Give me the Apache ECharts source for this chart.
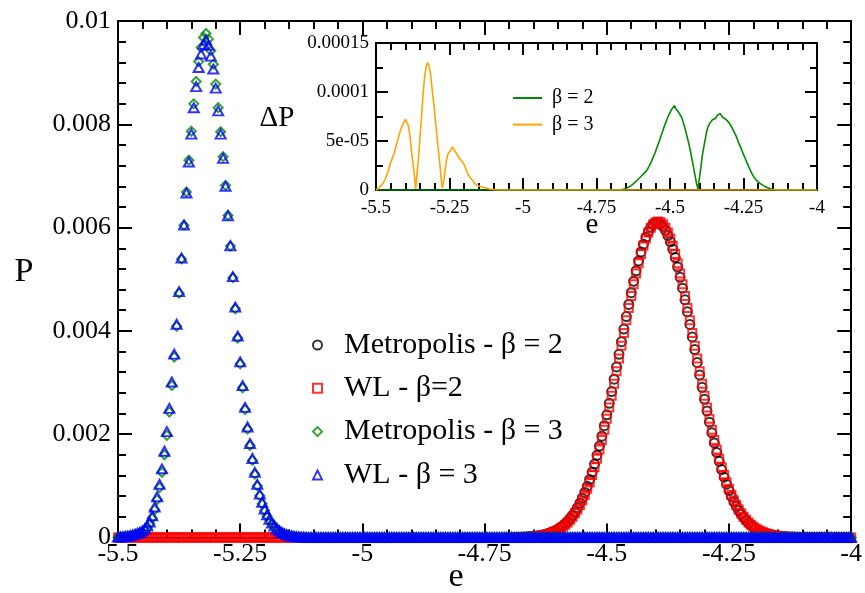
<!DOCTYPE html>
<html><head><meta charset="utf-8">
<script src="https://cdn.jsdelivr.net/npm/echarts@6/dist/echarts.min.js"></script>
<style>html,body{margin:0;padding:0;background:#fff}#c{width:865px;height:593px}</style>
</head><body><div id="c"></div>
<script>
// energy grid e (shared by all series)
const E = [
-5.5,-5.495,-5.49,-5.485,-5.48,-5.475,-5.47,-5.465,-5.46,-5.455,
-5.45,-5.445,-5.44,-5.435,-5.43,-5.425,-5.42,-5.415,-5.41,-5.405,
-5.4,-5.395,-5.39,-5.385,-5.38,-5.375,-5.37,-5.365,-5.36,-5.355,
-5.35,-5.345,-5.34,-5.335,-5.33,-5.325,-5.32,-5.315,-5.31,-5.305,
-5.3,-5.295,-5.29,-5.285,-5.28,-5.275,-5.27,-5.265,-5.26,-5.255,
-5.25,-5.245,-5.24,-5.235,-5.23,-5.225,-5.22,-5.215,-5.21,-5.205,
-5.2,-5.195,-5.19,-5.185,-5.18,-5.175,-5.17,-5.165,-5.16,-5.155,
-5.15,-5.145,-5.14,-5.135,-5.13,-5.125,-5.12,-5.115,-5.11,-5.105,
-5.1,-5.095,-5.09,-5.085,-5.08,-5.075,-5.07,-5.065,-5.06,-5.055,
-5.05,-5.045,-5.04,-5.035,-5.03,-5.025,-5.02,-5.015,-5.01,-5.005,
-5,-4.995,-4.99,-4.985,-4.98,-4.975,-4.97,-4.965,-4.96,-4.955,
-4.95,-4.945,-4.94,-4.935,-4.93,-4.925,-4.92,-4.915,-4.91,-4.905,
-4.9,-4.895,-4.89,-4.885,-4.88,-4.875,-4.87,-4.865,-4.86,-4.855,
-4.85,-4.845,-4.84,-4.835,-4.83,-4.825,-4.82,-4.815,-4.81,-4.805,
-4.8,-4.795,-4.79,-4.785,-4.78,-4.775,-4.77,-4.765,-4.76,-4.755,
-4.75,-4.745,-4.74,-4.735,-4.73,-4.725,-4.72,-4.715,-4.71,-4.705,
-4.7,-4.695,-4.69,-4.685,-4.68,-4.675,-4.67,-4.665,-4.66,-4.655,
-4.65,-4.645,-4.64,-4.635,-4.63,-4.625,-4.62,-4.615,-4.61,-4.605,
-4.6,-4.595,-4.59,-4.585,-4.58,-4.575,-4.57,-4.565,-4.56,-4.555,
-4.55,-4.545,-4.54,-4.535,-4.53,-4.525,-4.52,-4.515,-4.51,-4.505,
-4.5,-4.495,-4.49,-4.485,-4.48,-4.475,-4.47,-4.465,-4.46,-4.455,
-4.45,-4.445,-4.44,-4.435,-4.43,-4.425,-4.42,-4.415,-4.41,-4.405,
-4.4,-4.395,-4.39,-4.385,-4.38,-4.375,-4.37,-4.365,-4.36,-4.355,
-4.35,-4.345,-4.34,-4.335,-4.33,-4.325,-4.32,-4.315,-4.31,-4.305,
-4.3,-4.295,-4.29,-4.285,-4.28,-4.275,-4.27,-4.265,-4.26,-4.255,
-4.25,-4.245,-4.24,-4.235,-4.23,-4.225,-4.22,-4.215,-4.21,-4.205,
-4.2,-4.195,-4.19,-4.185,-4.18,-4.175,-4.17,-4.165,-4.16,-4.155,
-4.15,-4.145,-4.14,-4.135,-4.13,-4.125,-4.12,-4.115,-4.11,-4.105,
-4.1,-4.095,-4.09,-4.085,-4.08,-4.075,-4.07,-4.065,-4.06,-4.055,
-4.05,-4.045,-4.04,-4.035,-4.03,-4.025,-4.02,-4.015,-4.01,-4.005,
-4
];

// Metropolis, beta = 2 (null = no point)
const pMetro2 = [
null,null,null,null,null,null,null,null,null,null,
null,null,null,null,null,null,null,null,null,null,
null,null,null,null,null,null,null,null,null,null,
null,null,null,null,null,null,null,null,null,null,
null,null,null,null,null,null,null,null,null,null,
null,null,null,null,null,null,null,null,null,null,
null,null,null,null,null,null,null,null,null,null,
null,null,null,null,null,null,null,null,null,null,
null,null,null,null,null,null,null,null,null,null,
null,null,null,null,null,null,null,null,null,null,
null,null,null,null,null,null,null,null,null,null,
null,null,null,null,null,null,null,null,null,null,
null,null,null,null,null,null,null,null,null,null,
null,null,null,null,null,null,null,null,null,null,
null,null,null,null,null,null,null,null,null,null,
null,null,null,null,null,null,null,null,null,null,
null,null,null,null,null,0.0000058,0.0000076,0.0000098,0.0000127,0.0000161,
0.0000206,0.0000262,0.000032,0.0000409,0.00005,0.0000622,0.0000755,0.000092,0.0001115,0.000133,
0.0001595,0.00019,0.0002245,0.000265,0.0003115,0.000366,0.000427,0.000497,0.0005755,0.000664,
0.0007615,0.000871,0.000991,0.001123,0.0012665,0.001422,0.0015905,0.0017705,0.0019615,0.002164,
0.002376,0.002598,0.002825,0.003065,0.003303,0.003547,0.003791,0.0040365,0.004278,0.004513,
0.004741,0.004959,0.005164,0.005355,0.005528,0.00568,0.005812,0.005921,0.006006,0.006067,
0.006094,0.006097,0.006071,0.006022,0.005947,0.005846,0.005724,0.005581,0.005419,0.005237,
0.005038,0.004828,0.004601,0.004369,0.004126,0.003883,0.003638,0.00339,0.003148,0.002908,
0.002675,0.002449,0.002233,0.002027,0.001831,0.001647,0.001475,0.001315,0.001167,0.001032,
0.000908,0.000795,0.000694,0.000603,0.000522,0.00045,0.000386,0.0003305,0.0002805,0.0002375,
0.0002,0.000168,0.00014,0.000116,0.000097,0.0000798,0.0000655,0.000054,0.0000435,0.0000359,
0.0000282,0.0000235,0.0000187,0.000015,0.000012,0.0000094,0.0000074,0.0000058,null,null,
null,null,null,null,null,null,null,null,null,null,
null,null,null,null,null,null,null,null,null,null,
null
];

// Wang-Landau, beta = 2
const pWL2 = [
0,0,0,0,0,0,0,0,0,0,
0,0,0,0,0,0,0,0,0,0,
0,0,0,0,0,0,0,0,0,0,
0,0,0,0,0,0,0,0,0,0,
0,0,0,0,0,0,0,0,0,0,
0,0,0,0,0,0,0,0,0,0,
0,0,0,0,0,0,0,0,0,0,
0,0,0,null,null,null,null,null,null,null,
null,null,null,null,null,null,null,null,null,null,
null,null,null,null,null,null,null,null,null,null,
null,null,null,null,null,null,null,null,null,null,
null,null,null,null,null,null,null,null,null,null,
null,null,null,null,null,null,null,null,null,null,
null,null,null,null,null,null,null,null,null,null,
null,null,null,null,null,null,null,null,null,null,
null,null,null,null,null,null,null,null,null,null,
0,0,0,0,0,0.0000058,0.0000074,0.0000094,0.000012,0.000015,
0.000019,0.000024,0.000029,0.000037,0.000045,0.000056,0.000068,0.000083,0.000101,0.000121,
0.000146,0.000175,0.000208,0.000247,0.000292,0.000344,0.000402,0.000469,0.000544,0.000629,
0.000723,0.000828,0.000944,0.001072,0.001211,0.001362,0.001526,0.001702,0.001889,0.002088,
0.002297,0.002516,0.002744,0.002979,0.00322,0.003465,0.003712,0.003959,0.004204,0.004444,
0.004677,0.004901,0.005112,0.005309,0.005489,0.005649,0.005789,0.005906,0.005999,0.006066,
0.006106,0.00612,0.006106,0.006066,0.005999,0.005906,0.005789,0.005649,0.005489,0.005309,
0.005112,0.004901,0.004677,0.004444,0.004204,0.003959,0.003712,0.003465,0.00322,0.002979,
0.002744,0.002516,0.002297,0.002088,0.001889,0.001702,0.001526,0.001362,0.001211,0.001072,
0.000944,0.000828,0.000723,0.000629,0.000544,0.000469,0.000402,0.000344,0.000292,0.000247,
0.000208,0.000175,0.000146,0.000121,0.000101,0.000083,0.000068,0.000056,0.000045,0.000037,
0.000029,0.000024,0.000019,0.000015,0.000012,0.0000094,0.0000074,0.0000058,0,0,
0,0,0,0,0,0,0,0,0,0,
0,0,0,0,0,0,0,0,0,0,
0
];

// Metropolis, beta = 3
const pMetro3 = [
0.000007,0.000009,0.000012,0.0000165,0.0000215,0.00003,0.00004,0.000051,0.000067,0.000082,
0.000102,0.000138,0.000184,0.000259,0.000373,0.000538,0.000732,0.000968,0.001264,0.001601,
0.001978,0.00243,0.002944,0.003494,0.004088,0.004731,0.005394,0.006047,0.006688,0.007305,
0.007866,0.008396,0.008828,0.009214,0.009485,0.00968,0.009757,0.009649,0.009425,0.009162,
0.008778,0.008322,0.007857,0.007373,0.006818,0.006236,0.005642,0.00503,0.004429,0.003863,
0.003361,0.002899,0.002476,0.002098,0.001781,0.001493,0.001226,0.000998,0.00081,0.000652,
0.000524,0.000418,0.000332,0.000265,0.000207,0.000159,0.00012,0.000093,0.0000695,0.0000505,
0.000036,0.0000265,0.000017,0.0000125,0.000008,0.000005,0.0000035,0,0,0,
0,0,0,0,0,0,0,0,0,0,
0,0,0,0,0,0,0,0,0,0,
0,0,0,0,0,0,0,0,0,0,
0,0,0,0,0,0,0,0,0,0,
0,0,0,0,0,0,0,0,0,0,
0,0,0,0,0,0,0,0,0,0,
0,0,0,0,0,0,0,0,0,0,
0,0,0,0,0,0,0,0,0,0,
0,0,0,0,0,0,0,0,0,0,
0,0,0,0,0,0,0,0,0,0,
0,0,0,0,0,0,0,0,0,0,
0,0,0,0,0,0,0,0,0,0,
0,0,0,0,0,0,0,0,0,0,
0,0,0,0,0,0,0,0,0,0,
0,0,0,0,0,0,0,0,0,0,
0,0,0,0,0,0,0,0,0,0,
0,0,0,0,0,0,0,0,0,0,
0,0,0,0,0,0,0,0,0,0,
0,0,0,0,0,0,0,0,0,0,
0,0,0,0,0,0,0,0,0,0,
0,0,0,0,0,0,0,0,0,0,
0,0,0,0,0,0,0,0,0,0,
0
];

// Wang-Landau, beta = 3
const pWL3 = [
0.000007,0.00001,0.000014,0.00002,0.000027,0.000037,0.00005,0.000065,0.000085,0.000105,
0.00013,0.00017,0.00022,0.0003,0.00042,0.00059,0.00079,0.00103,0.00133,0.00167,
0.00205,0.0025,0.00301,0.00355,0.00413,0.00476,0.00541,0.00605,0.00667,0.00727,
0.00781,0.00832,0.00873,0.0091,0.00936,0.00955,0.00963,0.00953,0.00932,0.00907,
0.0087,0.00826,0.00781,0.00734,0.0068,0.00623,0.00565,0.00505,0.00446,0.0039,
0.0034,0.00294,0.00252,0.00214,0.00182,0.00153,0.00126,0.00103,0.00084,0.00068,
0.00055,0.00044,0.00035,0.00028,0.00022,0.00017,0.00013,0.0001,0.000075,0.000055,
0.00004,0.00003,0.00002,0.000015,0.00001,0.000007,0.000005,0,0,0,
0,0,0,0,0,0,0,0,0,0,
0,0,0,0,0,0,0,0,0,0,
0,0,0,0,0,0,0,0,0,0,
0,0,0,0,0,0,0,0,0,0,
0,0,0,0,0,0,0,0,0,0,
0,0,0,0,0,0,0,0,0,0,
0,0,0,0,0,0,0,0,0,0,
0,0,0,0,0,0,0,0,0,0,
0,0,0,0,0,0,0,0,0,0,
0,0,0,0,0,0,0,0,0,0,
0,0,0,0,0,0,0,0,0,0,
0,0,0,0,0,0,0,0,0,0,
0,0,0,0,0,0,0,0,0,0,
0,0,0,0,0,0,0,0,0,0,
0,0,0,0,0,0,0,0,0,0,
0,0,0,0,0,0,0,0,0,0,
0,0,0,0,0,0,0,0,0,0,
0,0,0,0,0,0,0,0,0,0,
0,0,0,0,0,0,0,0,0,0,
0,0,0,0,0,0,0,0,0,0,
0,0,0,0,0,0,0,0,0,0,
0,0,0,0,0,0,0,0,0,0,
0
];

// inset: Delta P, beta = 2
const dP2 = [
0,0,0,0,0,0,0,0,0,0,
0,0,0,0,0,0,0,0,0,0,
0,0,0,0,0,0,0,0,0,0,
0,0,0,0,0,0,0,0,0,0,
0,0,0,0,0,0,0,0,0,0,
0,0,0,0,0,0,0,0,0,0,
0,0,0,0,0,0,0,0,0,0,
0,0,0,0,0,0,0,0,0,0,
0,0,0,0,0,0,0,0,0,0,
0,0,0,0,0,0,0,0,0,0,
0,0,0,0,0,0,0,0,0,0,
0,0,0,0,0,0,0,0,0,0,
0,0,0,0,0,0,0,0,0,0,
0,0,0,0,0,0,0,0,0,0,
0,0,0,0,0,0,0,0,0,0,
0,0,0,0,0,0,0,0,0,0,
0,0,0,0,0,0,0.0000002,0.0000004,0.0000007,0.0000011,
0.0000016,0.0000022,0.000003,0.0000039,0.000005,0.0000062,0.0000075,0.000009,0.0000105,0.000012,
0.0000135,0.000015,0.0000165,0.000018,0.0000195,0.000022,0.000025,0.000028,0.0000315,0.000035,
0.0000385,0.000043,0.000047,0.000051,0.0000555,0.00006,0.0000645,0.0000685,0.0000725,0.000076,
0.000079,0.000082,0.000081,0.000086,0.000083,0.000082,0.000079,0.0000775,0.000074,0.000069,
0.000064,0.000058,0.000052,0.000046,0.000039,0.000031,0.000023,0.000015,0.000007,0.000001,
0.000012,0.000023,0.000035,0.000044,0.000052,0.00006,0.000065,0.000068,0.00007,0.000072,
0.000074,0.000073,0.000076,0.000075,0.000078,0.000076,0.000074,0.000075,0.000072,0.000071,
0.000069,0.000067,0.000064,0.000061,0.000058,0.000055,0.000051,0.000047,0.000044,0.00004,
0.000036,0.000033,0.000029,0.000026,0.000022,0.000019,0.000016,0.0000135,0.0000115,0.0000095,
0.000008,0.000007,0.000006,0.000005,0.000004,0.0000032,0.0000025,0.000002,0.0000015,0.0000011,
0.0000008,0.0000005,0.0000003,0,0,0,0,0,0,0,
0,0,0,0,0,0,0,0,0,0,
0,0,0,0,0,0,0,0,0,0,
0
];

// inset: Delta P, beta = 3
const dP3 = [
0,0.000001,0.000002,0.0000035,0.0000055,0.000007,0.00001,0.000014,0.000018,0.000023,
0.000028,0.000032,0.000036,0.000041,0.000047,0.000052,0.000058,0.000062,0.000066,0.000069,
0.000072,0.00007,0.000066,0.000056,0.000042,0.000029,0.000016,0.000001,0.000018,0.000035,
0.000056,0.000076,0.000098,0.000114,0.000125,0.00013,0.000127,0.000119,0.000105,0.000092,
0.000078,0.000062,0.000047,0.000033,0.000018,0.000002,0.000008,0.00002,0.000031,0.000037,
0.000039,0.000041,0.000044,0.000042,0.000039,0.000037,0.000034,0.000032,0.00003,0.000028,
0.000026,0.000022,0.000018,0.000015,0.000013,0.000011,0.00001,0.000007,0.0000055,0.0000045,
0.000004,0.0000035,0.000003,0.0000025,0.000002,0.000002,0.0000015,0.000001,0.000001,0.0000007,
0.0000005,0.0000003,0,0,0,0,0,0,0,0,
0,0,0,0,0,0,0,0,0,0,
0,0,0,0,0,0,0,0,0,0,
0,0,0,0,0,0,0,0,0,0,
0,0,0,0,0,0,0,0,0,0,
0,0,0,0,0,0,0,0,0,0,
0,0,0,0,0,0,0,0,0,0,
0,0,0,0,0,0,0,0,0,0,
0,0,0,0,0,0,0,0,0,0,
0,0,0,0,0,0,0,0,0,0,
0,0,0,0,0,0,0,0,0,0,
0,0,0,0,0,0,0,0,0,0,
0,0,0,0,0,0,0,0,0,0,
0,0,0,0,0,0,0,0,0,0,
0,0,0,0,0,0,0,0,0,0,
0,0,0,0,0,0,0,0,0,0,
0,0,0,0,0,0,0,0,0,0,
0,0,0,0,0,0,0,0,0,0,
0,0,0,0,0,0,0,0,0,0,
0,0,0,0,0,0,0,0,0,0,
0,0,0,0,0,0,0,0,0,0,
0,0,0,0,0,0,0,0,0,0,
0
];

const mainLegend = ['Metropolis - β = 2', 'WL - β=2', 'Metropolis - β = 3', 'WL - β = 3'];
const insetLegend = ['β = 2', 'β = 3'];
const insetYLabels = ['0', '5e-05', '0.0001', '0.00015'];

const FONT = '"Liberation Serif"';

function pairs(v) {
  const out = [];
  for (let i = 0; i < E.length; i++) {
    if (v[i] !== null && v[i] !== undefined) out.push([E[i], v[i]]);
  }
  return out;
}

function xAx(grid, pos, showLabel, fs, tl, ml, margin) {
  return {
    type: 'value', gridIndex: grid, position: pos, min: -5.5, max: -4, interval: 0.25,
    axisLine: { show: true, onZero: false, lineStyle: { color: '#000', width: 2 } },
    axisTick: { show: true, inside: true, length: tl, lineStyle: { color: '#000', width: 2 } },
    minorTick: { show: true, splitNumber: 5, length: ml, lineStyle: { color: '#000', width: 2 } },
    splitLine: { show: false }, minorSplitLine: { show: false },
    axisLabel: { show: showLabel, color: '#000', fontFamily: FONT, fontSize: fs, margin: margin,
                 showMinLabel: true, showMaxLabel: true }
  };
}
function yAx(grid, pos, showLabel, max, interval, split, fs, tl, ml, margin, fmt) {
  const a = {
    type: 'value', gridIndex: grid, position: pos, min: 0, max: max, interval: interval,
    axisLine: { show: true, onZero: false, lineStyle: { color: '#000', width: 2 } },
    axisTick: { show: true, inside: true, length: tl, lineStyle: { color: '#000', width: 2 } },
    minorTick: { show: true, splitNumber: split, length: ml, lineStyle: { color: '#000', width: 2 } },
    splitLine: { show: false }, minorSplitLine: { show: false },
    axisLabel: { show: showLabel, color: '#000', fontFamily: FONT, fontSize: fs, margin: margin,
                 showMinLabel: true, showMaxLabel: true }
  };
  if (fmt) a.axisLabel.formatter = fmt;
  return a;
}
function hollow(name, symbol, size, color, data) {
  return {
    name: name, type: 'scatter', xAxisIndex: 0, yAxisIndex: 0, symbol: symbol, symbolSize: size,
    data: pairs(data), clip: false, silent: true,
    itemStyle: { color: 'rgba(255,255,255,0)', borderColor: color, borderWidth: 2 },
    emphasis: { disabled: true }
  };
}

const chart = echarts.init(document.getElementById('c'), null, { renderer: 'canvas' });
chart.setOption({
  animation: false,
  backgroundColor: '#fff',
  textStyle: { fontFamily: FONT },
  grid: [
    { left: 118, right: 12, top: 21, bottom: 55.5 },
    { left: 376, right: 48, top: 43, bottom: 403, show: true, backgroundColor: '#fff', borderWidth: 0, z: 5 }
  ],
  xAxis: [
    xAx(0, 'bottom', true, 26, 14, 8, 4),
    xAx(0, 'top', false, 26, 14, 8, 4),
    Object.assign(xAx(1, 'bottom', true, 19, 12, 7, 9), { z: 6 }),
    Object.assign(xAx(1, 'top', false, 19, 12, 7, 9), { z: 6 })
  ],
  yAxis: [
    yAx(0, 'left', true, 0.01, 0.002, 5, 26, 14, 8, 7),
    yAx(0, 'right', false, 0.01, 0.002, 5, 26, 14, 8, 7),
    Object.assign(yAx(1, 'left', true, 0.00015, 0.00005, 2, 19, 12, 7, 7,
      function (v, i) { return insetYLabels[i]; }), { z: 6 }),
    Object.assign(yAx(1, 'right', false, 0.00015, 0.00005, 2, 19, 12, 7, 7), { z: 6 })
  ],
  legend: [
    {
      data: mainLegend, orient: 'vertical', left: 312, top: 330, padding: 0, itemWidth: 9, itemHeight: 9,
      itemGap: 13.3, selectedMode: false, z: 10,
      textStyle: { fontFamily: FONT, fontSize: 30, color: '#000', padding: [0, 0, 0, 17] }
    },
    {
      data: insetLegend, orient: 'vertical', left: 513, top: 88, padding: 0, itemWidth: 29, itemHeight: 2,
      icon: 'rect', itemGap: 6.6, selectedMode: false, z: 10,
      textStyle: { fontFamily: FONT, fontSize: 20, color: '#000', padding: [0, 0, 0, 5] }
    }
  ],
  series: [
    hollow(mainLegend[0], 'circle', 9, '#000000', pMetro2),
    hollow(mainLegend[1], 'rect', 8, '#ff0000', pWL2),
    hollow(mainLegend[2], 'diamond', 9, '#008b00', pMetro3),
    hollow(mainLegend[3], 'triangle', [10, 9], '#0000ff', pWL3),
    {
      name: insetLegend[0], type: 'line', xAxisIndex: 2, yAxisIndex: 2, data: pairs(dP2),
      showSymbol: false, symbol: 'none', color: '#008b00', z: 7, silent: true,
      lineStyle: { color: '#008b00', width: 1.6 }
    },
    {
      name: insetLegend[1], type: 'line', xAxisIndex: 2, yAxisIndex: 2, data: pairs(dP3),
      showSymbol: false, symbol: 'none', color: '#ffa500', z: 7, silent: true,
      lineStyle: { color: '#ffa500', width: 1.6 }
    }
  ],
  graphic: [
    { type: 'text', x: 24, y: 272, style: { text: 'P', font: '34px "Liberation Serif"', fill: '#000', align: 'center', verticalAlign: 'middle' } },
    { type: 'text', x: 456, y: 577, style: { text: 'e', font: '34px "Liberation Serif"', fill: '#000', align: 'center', verticalAlign: 'middle' } },
    { type: 'text', x: 277, y: 118, style: { text: 'ΔP', font: '29px "Liberation Serif"', fill: '#000', align: 'center', verticalAlign: 'middle' } },
    { type: 'text', x: 592, y: 225, style: { text: 'e', font: '29px "Liberation Serif"', fill: '#000', align: 'center', verticalAlign: 'middle' }, z: 10 }
  ]
});
</script>
</body></html>
